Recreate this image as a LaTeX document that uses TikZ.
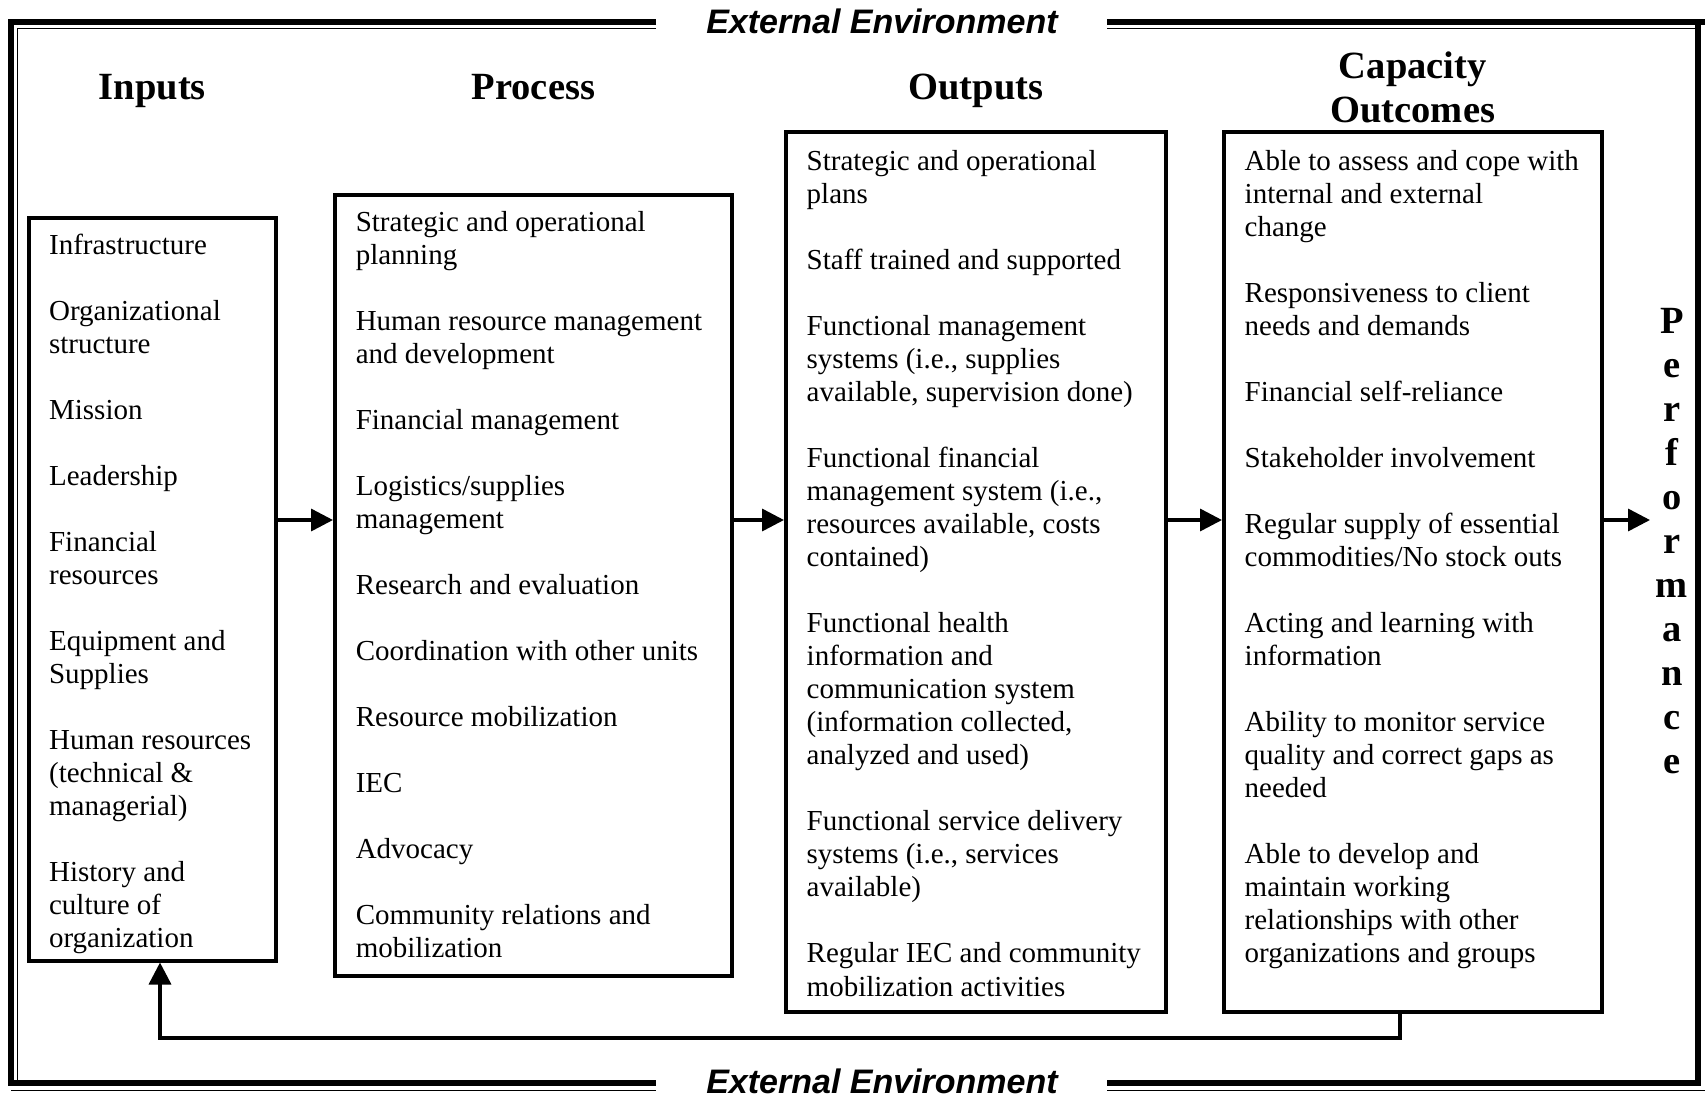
\documentclass[tikz,border=0pt]{standalone}
\usepackage{fontspec}
\setmainfont{Liberation Serif}
\newfontfamily\envfont{Liberation Sans}
\usetikzlibrary{arrows.meta}
\begin{document}
\begin{tikzpicture}[x=1pt, y=-1pt,
  box/.style={draw, line width=4pt, inner sep=0pt},
  body/.style={font=\fontsize{29}{33}\selectfont, inner sep=0pt, anchor=base west},
  hdr/.style={font=\fontsize{38.5}{44}\selectfont\bfseries, inner sep=0pt, anchor=base},
  env/.style={font=\envfont\fontsize{34}{40}\selectfont\bfseries\itshape, inner sep=0pt, anchor=base},
  arr/.style={line width=3.5pt, -{Triangle[length=22pt,width=22pt]}},
  thickframe/.style={line width=6pt},
  thinframe/.style={line width=1.5pt},
]
\useasboundingbox (0,0) rectangle (1705,1098);

% frame
\draw[thickframe] (656,22) -- (11,22) -- (11,1083) -- (656,1083);
\draw[thickframe] (1107,1083) -- (1698,1083) -- (1698,22);
\draw[thickframe] (1107,22) -- (1705,22);
\draw[thinframe] (656,28.5) -- (17.5,28.5) -- (17.5,1083);
\draw[thinframe] (1107,28.5) -- (1698,28.5);
\draw[thinframe] (11,1090.5) -- (656,1090.5);
\draw[thinframe] (1107,1090.5) -- (1705,1090.5);
\node[env] (envtop) at (882,33.5) {External Environment};
\node[env] (envbot) at (882,1093) {External Environment};

% boxes
\node[box, minimum width=247.8pt, minimum height=743pt] (inputs) at (152.4,589) {};
\node[box, minimum width=396.8pt, minimum height=781pt] (process) at (533.4,585) {};
\node[box, minimum width=380pt, minimum height=880pt] (outputs) at (976,572) {};
\node[box, minimum width=377.5pt, minimum height=880pt] (capacity) at (1412.75,572) {};

% headers
\node[hdr] (hin) at (152.4,99) {Inputs};
\node[hdr] (hpr) at (533.4,99) {Process};
\node[hdr] (hout) at (976,99) {Outputs};
\node[hdr] (hcap1) at (1412.75,78) {Capacity};
\node[hdr] (hcap2) at (1412.75,122.5) {Outcomes};

% inputs text
\foreach \i/\t in {0/{Infrastructure}, 2/{Organizational}, 3/{structure}, 5/{Mission},
  7/{Leadership}, 9/{Financial}, 10/{resources}, 12/{Equipment and}, 13/{Supplies},
  15/{Human resources}, 16/{(technical \&}, 17/{managerial)}, 19/{History and},
  20/{culture of}, 21/{organization}}
  \node[body] (in-\i) at (48.9, 254+\i*33.04) {\t};

% process text
\foreach \i/\t in {0/{Strategic and operational}, 1/{planning}, 3/{Human resource management},
  4/{and development}, 6/{Financial management}, 8/{Logistics/supplies}, 9/{management},
  11/{Research and evaluation}, 13/{Coordination with other units}, 15/{Resource mobilization},
  17/{IEC}, 19/{Advocacy}, 21/{Community relations and}, 22/{mobilization}}
  \node[body] (pr-\i) at (355.6, 231+\i*33.04) {\t};

% outputs text
\foreach \i/\t in {0/{Strategic and operational}, 1/{plans}, 3/{Staff trained and supported},
  5/{Functional management}, 6/{systems (i.e., supplies}, 7/{available, supervision done)},
  9/{Functional financial}, 10/{management system (i.e.,}, 11/{resources available, costs},
  12/{contained)}, 14/{Functional health}, 15/{information and}, 16/{communication system},
  17/{(information collected,}, 18/{analyzed and used)}, 20/{Functional service delivery},
  21/{systems (i.e., services}, 22/{available)}, 24/{Regular IEC and community},
  25/{mobilization activities}}
  \node[body] (out-\i) at (806.5, 170+\i*33.04) {\t};

% capacity text
\foreach \i/\t in {0/{Able to assess and cope with}, 1/{internal and external}, 2/{change},
  4/{Responsiveness to client}, 5/{needs and demands}, 7/{Financial self-reliance},
  9/{Stakeholder involvement}, 11/{Regular supply of essential}, 12/{commodities/No stock outs},
  14/{Acting and learning with}, 15/{information}, 17/{Ability to monitor service},
  18/{quality and correct gaps as}, 19/{needed}, 21/{Able to develop and},
  22/{maintain working}, 23/{relationships with other}, 24/{organizations and groups}}
  \node[body] (cap-\i) at (1244.5, 170+\i*33.04) {\t};

% performance
\foreach \l [count=\i from 0] in {P,e,r,f,o,r,m,a,n,c,e}
  \node[hdr] (perf-\i) at (1672, 333+\i*44) {\l};

% arrows
\coordinate (ay) at (0,520);
\coordinate (perfin) at (1650,520);
\draw[arr] (inputs.east |- ay) -- (process.west |- ay);
\draw[arr] (process.east |- ay) -- (outputs.west |- ay);
\draw[arr] (outputs.east |- ay) -- (capacity.west |- ay);
\draw[arr] (capacity.east |- ay) -- (perfin);

% feedback
\coordinate (fb1) at (1400,1038);
\coordinate (fb2) at (160,1038);
\draw[arr] (capacity.south -| fb1) -- (fb1) -- (fb2) -- (inputs.south -| fb2);
\end{tikzpicture}
\end{document}
